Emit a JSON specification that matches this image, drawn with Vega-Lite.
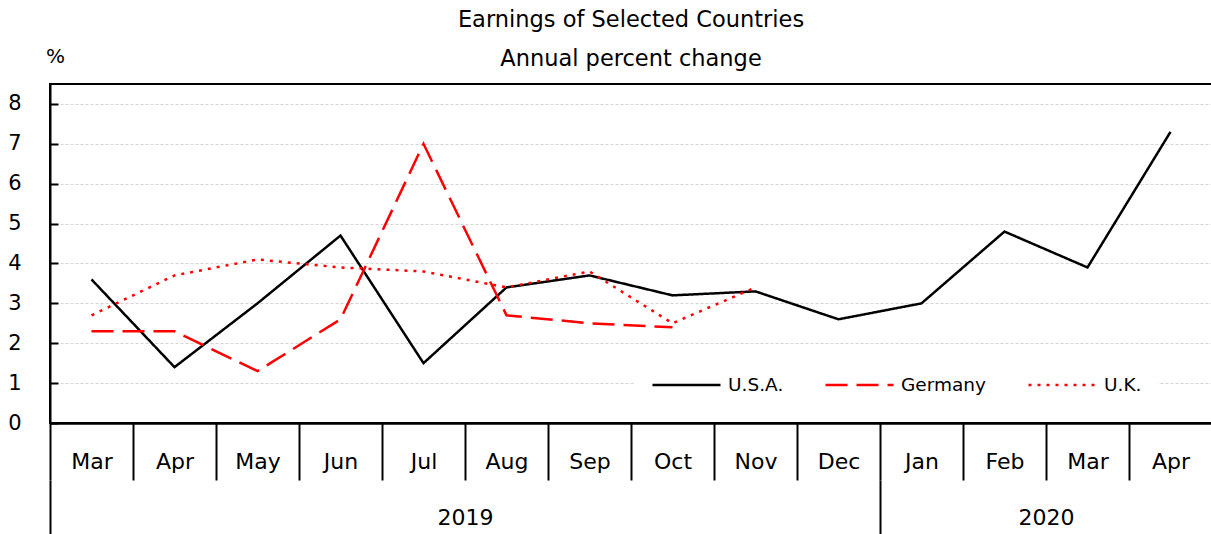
{
  "$schema": "https://vega.github.io/schema/vega-lite/v6.json",
  "width": 1162,
  "height": 339,
  "autosize": {"type": "none"},
  "padding": {"left": 50, "top": 84, "right": 0, "bottom": 111},
  "background": "white",
  "config": {
    "font": "DejaVu Sans",
    "view": {"stroke": "black", "strokeWidth": 2},
    "axis": {"labelFont": "DejaVu Sans", "labelColor": "black", "titleColor": "black", "titleFont": "DejaVu Sans"}
  },
  "title": {
    "text": "Earnings of Selected Countries",
    "subtitle": "Annual percent change",
    "font": "DejaVu Sans",
    "subtitleFont": "DejaVu Sans",
    "fontSize": 22.5,
    "subtitleFontSize": 22.5,
    "fontWeight": "normal",
    "color": "black",
    "subtitleColor": "black",
    "anchor": "middle",
    "offset": -24,
    "subtitlePadding": 16
  },
  "data": {
    "values": [
      {"m": "2019-03", "country": "U.S.A.", "v": 3.6},
      {"m": "2019-04", "country": "U.S.A.", "v": 1.4},
      {"m": "2019-05", "country": "U.S.A.", "v": 3.0},
      {"m": "2019-06", "country": "U.S.A.", "v": 4.7},
      {"m": "2019-07", "country": "U.S.A.", "v": 1.5},
      {"m": "2019-08", "country": "U.S.A.", "v": 3.4},
      {"m": "2019-09", "country": "U.S.A.", "v": 3.7},
      {"m": "2019-10", "country": "U.S.A.", "v": 3.2},
      {"m": "2019-11", "country": "U.S.A.", "v": 3.3},
      {"m": "2019-12", "country": "U.S.A.", "v": 2.6},
      {"m": "2020-01", "country": "U.S.A.", "v": 3.0},
      {"m": "2020-02", "country": "U.S.A.", "v": 4.8},
      {"m": "2020-03", "country": "U.S.A.", "v": 3.9},
      {"m": "2020-04", "country": "U.S.A.", "v": 7.3},
      {"m": "2019-03", "country": "Germany", "v": 2.3},
      {"m": "2019-04", "country": "Germany", "v": 2.3},
      {"m": "2019-05", "country": "Germany", "v": 1.3},
      {"m": "2019-06", "country": "Germany", "v": 2.6},
      {"m": "2019-07", "country": "Germany", "v": 7.0},
      {"m": "2019-08", "country": "Germany", "v": 2.7},
      {"m": "2019-09", "country": "Germany", "v": 2.5},
      {"m": "2019-10", "country": "Germany", "v": 2.4},
      {"m": "2019-03", "country": "U.K.", "v": 2.7},
      {"m": "2019-04", "country": "U.K.", "v": 3.7},
      {"m": "2019-05", "country": "U.K.", "v": 4.1},
      {"m": "2019-06", "country": "U.K.", "v": 3.9},
      {"m": "2019-07", "country": "U.K.", "v": 3.8},
      {"m": "2019-08", "country": "U.K.", "v": 3.4},
      {"m": "2019-09", "country": "U.K.", "v": 3.8},
      {"m": "2019-10", "country": "U.K.", "v": 2.5},
      {"m": "2019-11", "country": "U.K.", "v": 3.4}
    ]
  },
  "encoding": {
    "y": {
      "field": "v",
      "type": "quantitative",
      "scale": {"domain": [0, 8.5], "nice": false, "zero": true},
      "axis": {
        "values": [0, 1, 2, 3, 4, 5, 6, 7, 8],
        "title": "%",
        "titleAngle": 0,
        "titleX": 5,
        "titleY": -28,
        "titleAlign": "center",
        "titleBaseline": "middle",
        "titleFontSize": 20,
        "titleFontWeight": "normal",
        "labelFontSize": 21,
        "labelPadding": 37,
        "tickSize": -8,
        "tickColor": "black",
        "tickWidth": 2,
        "domainColor": "black",
        "domainWidth": 2,
        "grid": true,
        "gridColor": "#d4d4d4",
        "gridDash": [3, 2],
        "gridWidth": 1
      }
    },
    "color": {
      "field": "country",
      "type": "nominal",
      "scale": {"domain": ["U.S.A.", "Germany", "U.K."], "range": ["#000000", "#ff0000", "#ff0000"]},
      "legend": {
        "orient": "none",
        "legendX": 585,
        "legendY": 275,
        "direction": "horizontal",
        "title": null,
        "symbolType": "stroke",
        "symbolSize": 4624,
        "symbolStrokeWidth": 2.5,
        "clipHeight": 20,
        "labelFontSize": 18.5,
        "labelFont": "DejaVu Sans",
        "labelColor": "black",
        "labelOffset": 6,
        "columnPadding": 40,
        "padding": 16,
        "fillColor": "white"
      }
    },
    "strokeDash": {
      "field": "country",
      "type": "nominal",
      "scale": {"domain": ["U.S.A.", "Germany", "U.K."], "range": [[1, 0], [22, 9], [3, 6]]},
      "legend": {
        "orient": "none",
        "legendX": 585,
        "legendY": 275,
        "direction": "horizontal",
        "title": null,
        "symbolType": "stroke",
        "symbolSize": 4624,
        "symbolStrokeWidth": 2.5,
        "clipHeight": 20,
        "labelFontSize": 18.5,
        "labelFont": "DejaVu Sans",
        "labelColor": "black",
        "labelOffset": 6,
        "columnPadding": 40,
        "padding": 16,
        "fillColor": "white"
      }
    },
    "strokeWidth": {
      "field": "country",
      "type": "nominal",
      "scale": {"domain": ["U.S.A.", "Germany", "U.K."], "range": [2.5, 2.5, 3.5]},
      "legend": null
    }
  },
  "layer": [
    {
      "transform": [{"filter": "datum.country != 'Germany'"}],
      "mark": {"type": "line"},
      "encoding": {
        "x": {
          "field": "m",
          "type": "ordinal",
          "scale": {
            "type": "point",
            "domain": ["2019-03", "2019-04", "2019-05", "2019-06", "2019-07", "2019-08", "2019-09", "2019-10", "2019-11", "2019-12", "2020-01", "2020-02", "2020-03", "2020-04"],
            "padding": 0.5
          },
          "axis": {
            "orient": "bottom",
            "title": null,
            "tickOffset": -41.5,
            "labelOffset": 41.5,
            "labelAngle": 0,
            "labelExpr": "['Jan','Feb','Mar','Apr','May','Jun','Jul','Aug','Sep','Oct','Nov','Dec'][toNumber(slice(datum.value, 5)) - 1]",
            "labelFontSize": 22,
            "labelBaseline": "middle",
            "labelPadding": -19,
            "tickSize": 57,
            "tickWidth": 2,
            "tickColor": "black",
            "domainColor": "black",
            "domainWidth": 2.5,
            "grid": false
          }
        }
      }
    },
    {
      "transform": [{"filter": "datum.country == 'Germany'"}],
      "mark": {"type": "line"},
      "encoding": {
        "x": {
          "field": "m",
          "type": "ordinal",
          "axis": {
            "orient": "bottom",
            "title": null,
            "offset": 57,
            "tickOffset": -41.5,
            "values": ["2019-03", "2019-08", "2020-01", "2020-03"],
            "labelAngle": 0,
            "labelExpr": "datum.value == '2019-08' ? '2019' : datum.value == '2020-03' ? '2020' : ''",
            "labelFontSize": 22,
            "labelBaseline": "middle",
            "labelPadding": -19,
            "tickSize": 56,
            "tickWidth": 2,
            "tickColor": "black",
            "tickOpacity": {"expr": "datum.value == '2019-03' || datum.value == '2020-01' ? 1 : 0"},
            "domain": false,
            "grid": false
          }
        }
      }
    }
  ],
  "resolve": {"axis": {"x": "independent"}}
}
